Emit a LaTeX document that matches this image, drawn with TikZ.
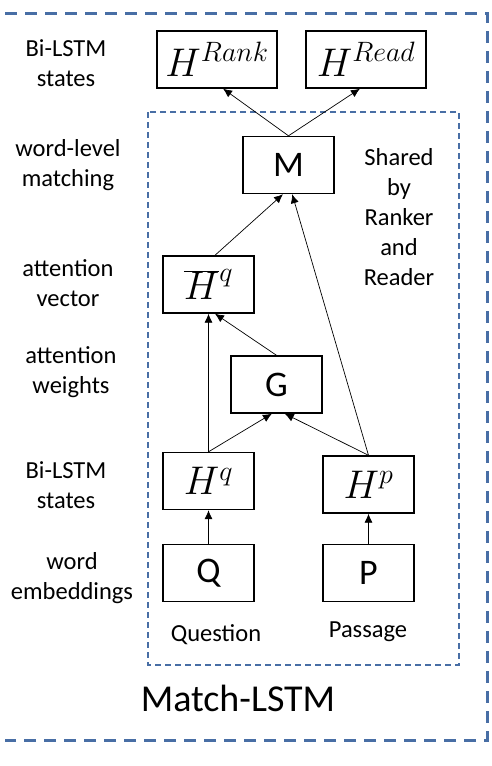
\RequirePackage{fix-cm}
\documentclass[tikz,border=0pt]{standalone}
\usepackage{fontspec}
\setmainfont{Carlito}
\usetikzlibrary{arrows.meta,calc}
\definecolor{dashblue}{RGB}{72,110,165}
\begin{document}
\begin{tikzpicture}[x=1pt,y=-1pt,
  box/.style={draw=black,line width=1.4pt,minimum width=91pt,minimum height=57pt,inner sep=0pt,font=\fontsize{36}{40}\selectfont},
  mbox/.style={box,font=\fontsize{40}{44}\selectfont},
  wbox/.style={mbox,minimum width=120pt},
  lbl/.style={align=center,font=\fontsize{24.5}{30}\selectfont,inner sep=0pt},
  arr/.style={-{Latex[length=9pt,width=8pt]},line width=0.7pt,black}]
\useasboundingbox (0,0) rectangle (491,766);
% outer box (top, right, bottom)
\draw[dashblue,line width=3pt,dash pattern=on 12pt off 8pt] (5,13) -- (487,13) -- (487,740) -- (5,740);
% inner box
\draw[dashblue,line width=1.5pt,dash pattern=on 6pt off 4pt] (148,112) rectangle (459,665);
% nodes
\node[wbox] (hrank) at (217,59.5) {$H^{Rank}$};
\node[wbox] (hread) at (366,59.5) {$H^{Read}$};
\node[box] (m) at (288.5,165) {M};
\node[mbox] (hbar) at (208.5,284.5) {$\overline{H}^{q}$};
\node[box] (g) at (276.5,384.5) {G};
\node[mbox] (hq) at (208.5,481) {$H^{q}$};
\node[mbox] (hp) at (368.5,484.5) {$H^{p}$};
\node[box] (q) at (208.5,573) {Q};
\node[box] (p) at (368.5,573) {P};
% labels
\node[lbl] (l1) at (66,63) {Bi-LSTM\\states};
\node[lbl] (l2) at (68,165) {word-level\\matching};
\node[lbl] (l3) at (68,283) {attention\\vector};
\node[lbl] (l4) at (71,372) {attention\\weights};
\node[lbl] (l5) at (66,485) {Bi-LSTM\\states};
\node[lbl] (l6) at (72,578) {word\\embeddings};
\node[lbl] (sh) at (399,217) {Shared\\by\\Ranker\\and\\Reader};
\node[lbl] (qq) at (216,635) {Question};
\node[lbl] (pp) at (368,632) {Passage};
\node[lbl,font=\fontsize{38}{42}\selectfont] (ml) at (238,698) {Match-LSTM};
% arrows
\draw[arr] (m.north) -- ($(hrank.south west)!0.55!(hrank.south east)$);
\draw[arr] (m.north) -- ($(hread.south west)!0.45!(hread.south east)$);
\draw[arr] ($(hbar.north west)!0.57!(hbar.north east)$) -- ($(m.south west)!0.44!(m.south east)$);
\draw[arr] (hp.north) -- ($(m.south west)!0.54!(m.south east)$);
\draw[arr] (hq.north) -- (hbar.south);
\draw[arr] (g.north) -- ($(hbar.south west)!0.57!(hbar.south east)$);
\draw[arr] (hq.north) -- ($(g.south west)!0.45!(g.south east)$);
\draw[arr] (hp.north) -- ($(g.south west)!0.59!(g.south east)$);
\draw[arr] (q.north) -- (hq.south);
\draw[arr] (p.north) -- (hp.south);
\end{tikzpicture}
\end{document}
